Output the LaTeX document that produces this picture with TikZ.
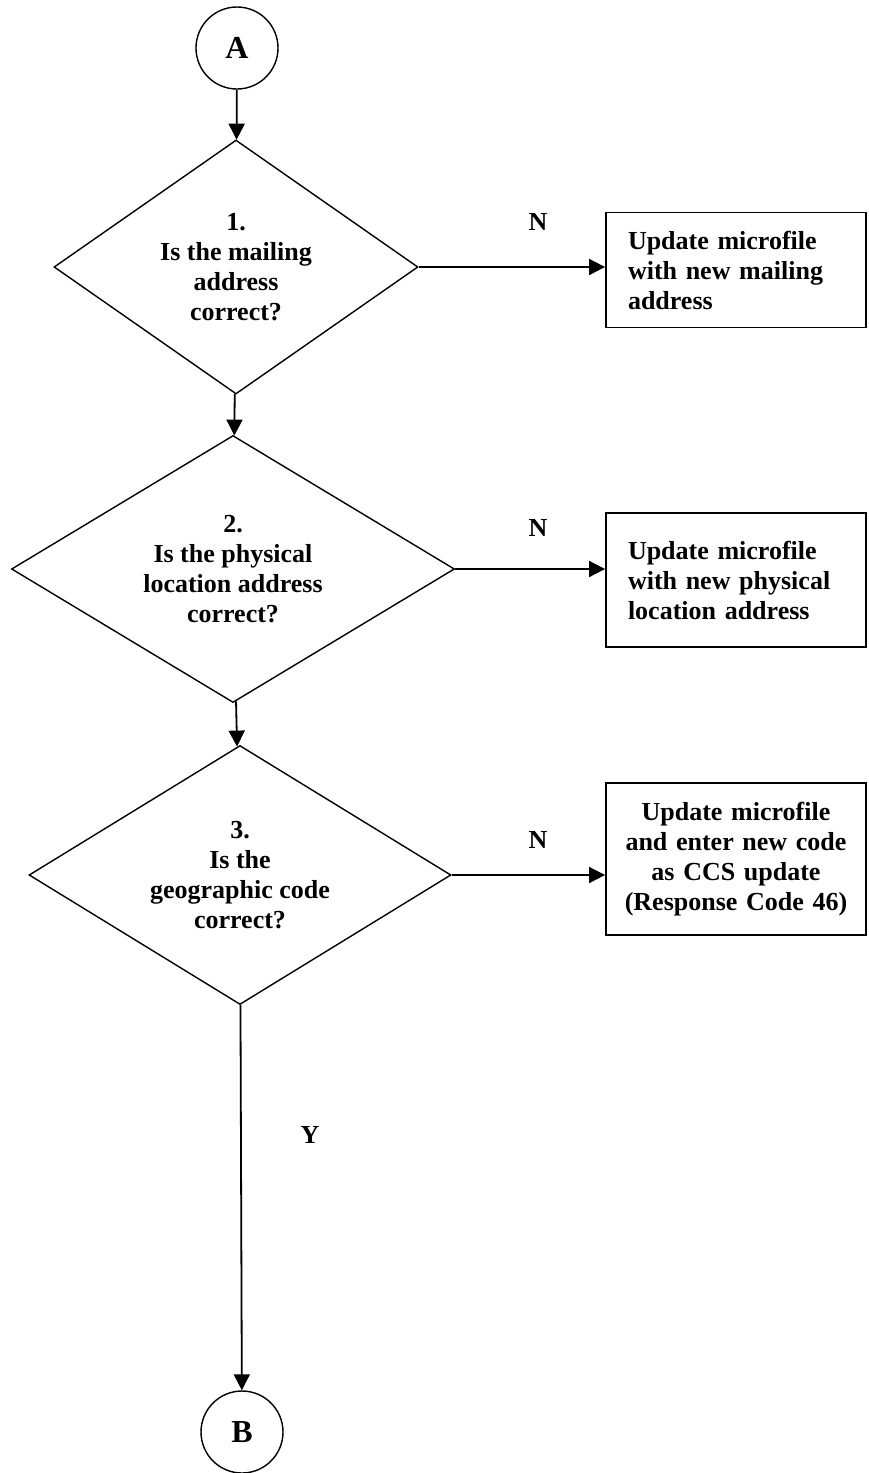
\documentclass[tikz,border=0pt]{standalone}
\usepackage{fontspec}
\setmainfont{Liberation Serif}
\usetikzlibrary{shapes.geometric, arrows.meta}

\begin{document}
\begin{tikzpicture}[x=1pt, y=-1pt,
    every node/.style={font=\fontsize{26}{30}\selectfont\bfseries},
    connector/.style={draw, circle, line width=1.4pt, minimum size=82pt,
        inner sep=0pt, font=\fontsize{32}{36}\selectfont\bfseries},
    decision/.style={draw, diamond, line width=1.4pt, shape aspect=1.6,
        inner sep=0pt, align=center},
    action/.style={draw, rectangle, line width=1.8pt, minimum width=260pt,
        inner sep=0pt},
    flow/.style={line width=1.8pt, -{Triangle[length=16pt, width=16pt]}}]
    \useasboundingbox (0,0) rectangle (868,1473);

    \node[connector] (a) at (237,48) {A};
    \node[decision, minimum width=364pt, minimum height=254pt] (d1) at (236,267)
        {1.\\Is the mailing\\address\\correct?};
    \node[decision, minimum width=443pt, minimum height=267pt] (d2) at (233,569)
        {2.\\Is the physical\\location address\\correct?};
    \node[decision, minimum width=422pt, minimum height=259pt] (d3) at (240,875)
        {3.\\Is the\\geographic code\\correct?};
    \node[connector] (b) at (242,1432) {B};

    \node[action, minimum height=115pt, text width=216pt, align=left] (u1) at (736,270)
        {Update microfile\\with new mailing\\address};
    \node[action, minimum height=134pt, text width=216pt, align=left] (u2) at (736,580)
        {Update microfile\\with new physical\\location address};
    \node[action, minimum height=152pt, text width=240pt, align=center] (u3) at (736,859)
        {Update microfile\\and enter new code\\as CCS update\\(Response Code 46)};

    \node (n1) at (538,222) {N};
    \node (n2) at (538,528) {N};
    \node (n3) at (538,840) {N};
    \node (y) at (310,1135) {Y};

    \draw[flow] (a) -- (d1);
    \draw[flow] (d1) -- (d2);
    \draw[flow] (d2) -- (d3);
    \draw[flow] (d3) -- (b);

    \draw[flow] (d1.east) -- (d1.east -| u1.west);
    \draw[flow] (d2.east) -- (d2.east -| u2.west);
    \draw[flow] (d3.east) -- (d3.east -| u3.west);
\end{tikzpicture}
\end{document}
